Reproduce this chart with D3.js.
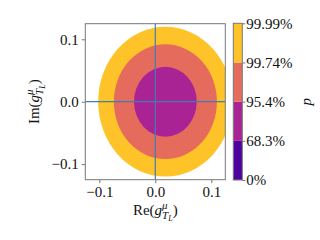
<!DOCTYPE html>
<html>
<head>
<meta charset="utf-8">
<script src="https://cdn.jsdelivr.net/npm/d3@7"></script>
<style>
  body { margin: 0; background: #fff; }
  text { font-family: "Liberation Serif", "DejaVu Serif", serif; fill: #111; }
</style>
</head>
<body>
<div id="chart"></div>
<script>
(function () {
  // data
  var centerRe = 0.018;
  var centerIm = 0.0;
  var regionRadii = [0.12, 0.092, 0.056]; // outer to inner
  var regionColors = ['#fdc328', '#e56b5d', '#a92395'];
  var xTicks = [-0.1, 0.0, 0.1];
  var yTicks = [-0.1, 0.0, 0.1];
  var cbarLabels = ['0%', '68.3%', '95.4%', '99.74%', '99.99%'];
  var cbarColors = ['#4c02a1', '#a92395', '#e56b5d', '#fdc328'];

  var width = 320, height = 240;
  var left = 85.3, right = 225.3, top = 23.7, bottom = 179.7;
  var axisColor = '#777';
  var fontSize = 15;

  var svg = d3.select('#chart').append('svg')
        .attr('width', width)
        .attr('height', height);

  var x = d3.scaleLinear().domain([-0.125, 0.125]).range([left, right]);
  var y = d3.scaleLinear().domain([-0.125, 0.125]).range([bottom, top]);
  var fmt = d3.format('.1f');

  svg.append('clipPath').attr('id', 'plotclip')
    .append('rect')
    .attr('x', left).attr('y', top)
    .attr('width', right - left).attr('height', bottom - top);

  var plot = svg.append('g').attr('clip-path', 'url(#plotclip)');

  plot.selectAll('.region')
    .data(regionRadii)
    .enter()
    .append('ellipse')
    .attr('class', 'region')
    .attr('cx', x(centerRe))
    .attr('cy', y(centerIm))
    .attr('rx', function (d) { return x(d) - x(0); })
    .attr('ry', function (d) { return y(0) - y(d); })
    .style('fill', function (d, i) { return regionColors[i]; });

  // zero lines
  plot.append('line')
    .attr('x1', left).attr('x2', right)
    .attr('y1', y(0)).attr('y2', y(0))
    .style('stroke', '#3d7fb3').style('stroke-width', 1.2);
  plot.append('line')
    .attr('x1', x(0)).attr('x2', x(0))
    .attr('y1', top).attr('y2', bottom)
    .style('stroke', '#3d7fb3').style('stroke-width', 1.2);

  // frame
  svg.append('rect')
    .attr('x', left).attr('y', top)
    .attr('width', right - left).attr('height', bottom - top)
    .style('fill', 'none').style('stroke', axisColor).style('stroke-width', 1);

  var xAxis = svg.append('g')
    .attr('transform', 'translate(0,' + bottom + ')')
    .call(d3.axisBottom(x).tickValues(xTicks).tickFormat(fmt).tickSize(3.5).tickPadding(3));
  var yAxis = svg.append('g')
    .attr('transform', 'translate(' + left + ',0)')
    .call(d3.axisLeft(y).tickValues(yTicks).tickFormat(fmt).tickSize(3.5).tickPadding(3));

  [xAxis, yAxis].forEach(function (ax) {
    ax.select('.domain').remove();
    ax.selectAll('.tick line').style('stroke', axisColor);
    ax.selectAll('.tick text')
      .style('font-size', fontSize + 'px')
      .style('font-family', '"Liberation Serif", serif')
      .style('fill', '#111');
  });

  // axis labels: Re(g^mu_{T_L}) and Im(g^mu_{T_L})
  function coupling(sel, prefix) {
    sel.append('tspan').text(prefix + '(');
    sel.append('tspan').style('font-style', 'italic').text('g');
    sel.append('tspan').style('font-style', 'italic').style('font-size', '11px')
      .attr('dy', -6.5).text('\u03bc');
    sel.append('tspan').style('font-style', 'italic').style('font-size', '11px')
      .attr('dx', -5.5).attr('dy', 10.5).text('T');
    sel.append('tspan').style('font-style', 'italic').style('font-size', '8px')
      .attr('dy', 2).text('L');
    sel.append('tspan').attr('dy', -6).text(')');
  }

  var xLabel = svg.append('text')
    .attr('x', x(0)).attr('y', 215)
    .attr('text-anchor', 'middle')
    .style('font-size', fontSize + 'px');
  coupling(xLabel, 'Re');

  var yLabel = svg.append('text')
    .attr('transform', 'translate(39,' + ((top + bottom) / 2) + ') rotate(-90)')
    .attr('text-anchor', 'middle')
    .style('font-size', fontSize + 'px');
  coupling(yLabel, 'Im');

  // colorbar
  var cbLeft = 233.3, cbRight = 242.3, cbTop = 23.3, cbBottom = 180;
  var cy = d3.scaleLinear().domain([0, cbarLabels.length - 1]).range([cbBottom, cbTop]);

  svg.selectAll('.cbar')
    .data(cbarColors)
    .enter()
    .append('rect')
    .attr('class', 'cbar')
    .attr('x', cbLeft)
    .attr('width', cbRight - cbLeft)
    .attr('y', function (d, i) { return cy(i + 1); })
    .attr('height', function (d, i) { return cy(i) - cy(i + 1); })
    .style('fill', function (d) { return d; });

  svg.append('rect')
    .attr('x', cbLeft).attr('y', cbTop)
    .attr('width', cbRight - cbLeft).attr('height', cbBottom - cbTop)
    .style('fill', 'none').style('stroke', axisColor).style('stroke-width', 1);

  var cAxis = svg.append('g')
    .attr('transform', 'translate(' + cbRight + ',0)')
    .call(d3.axisRight(cy).tickValues(d3.range(cbarLabels.length))
      .tickFormat(function (d) { return cbarLabels[d]; })
      .tickSize(3).tickPadding(1));
  cAxis.select('.domain').remove();
  cAxis.selectAll('.tick line').style('stroke', axisColor);
  cAxis.selectAll('.tick text')
    .style('font-size', fontSize + 'px')
    .style('font-family', '"Liberation Serif", serif')
    .style('fill', '#111');

  svg.append('text')
    .attr('transform', 'translate(311,' + ((cbTop + cbBottom) / 2) + ') rotate(-90)')
    .attr('text-anchor', 'middle')
    .style('font-size', fontSize + 'px')
    .style('font-style', 'italic')
    .text('p');
})();
</script>
</body>
</html>
